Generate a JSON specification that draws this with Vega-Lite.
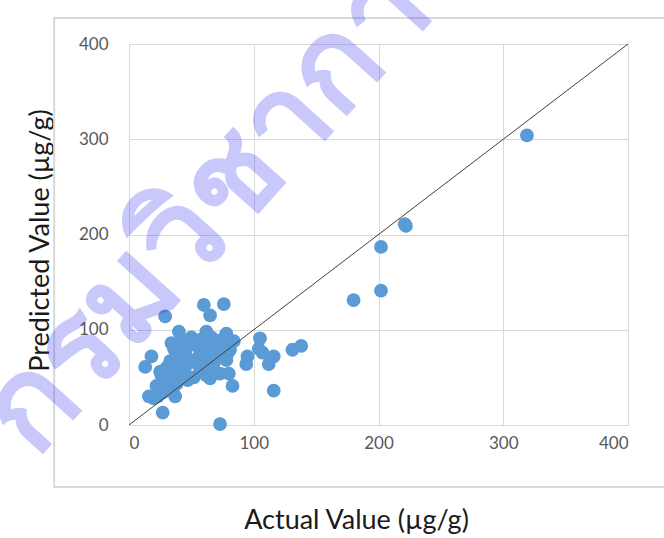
{
  "$schema": "https://vega.github.io/schema/vega-lite/v6.json",
  "width": 499,
  "height": 381,
  "autosize": {"type": "none"},
  "padding": {"left": 129, "top": 44, "right": 36, "bottom": 113},
  "background": "white",
  "config": {
    "view": {"stroke": "#d9d9d9", "strokeWidth": 1},
    "font": "Lato"
  },
  "datasets": {
    "points": [
      {"a":319,"p":304},{"a":221,"p":211},{"a":222,"p":209},{"a":202,"p":187},{"a":202,"p":141},{"a":180,"p":131},
      {"a":138,"p":83},{"a":131,"p":79},{"a":116,"p":36},{"a":112,"p":64},{"a":116,"p":72},{"a":105,"p":91},
      {"a":104,"p":80},{"a":107,"p":76},{"a":95,"p":72},{"a":94,"p":64},{"a":83,"p":41},{"a":80,"p":54},
      {"a":73,"p":1},{"a":27,"p":13},{"a":29,"p":114},{"a":60,"p":126},{"a":76,"p":127},{"a":65,"p":115},
      {"a":40,"p":98},{"a":34,"p":86},{"a":42,"p":89},{"a":49,"p":84},{"a":62,"p":98},{"a":64,"p":88},
      {"a":78,"p":96},{"a":84,"p":88},{"a":76,"p":82},{"a":73,"p":72},{"a":57,"p":77},{"a":38,"p":74},
      {"a":49,"p":68},{"a":33,"p":67},{"a":18,"p":72},{"a":13,"p":61},{"a":25,"p":56},{"a":25,"p":42},
      {"a":20,"p":28},{"a":35,"p":35},{"a":37,"p":30},{"a":47,"p":47},{"a":41,"p":52},{"a":65,"p":49},
      {"a":73,"p":54},{"a":54,"p":65},{"a":62,"p":60},{"a":68,"p":65},{"a":78,"p":68},{"a":70,"p":79},
      {"a":81,"p":79},{"a":46,"p":88},{"a":56,"p":83},{"a":30,"p":50},{"a":22,"p":41},{"a":38,"p":43},
      {"a":27,"p":34},{"a":23,"p":30},{"a":30,"p":60},{"a":45,"p":60},{"a":57,"p":57},{"a":67,"p":58},
      {"a":40,"p":65},{"a":35,"p":55},{"a":45,"p":76},{"a":60,"p":72},{"a":65,"p":80},{"a":75,"p":90},
      {"a":58,"p":90},{"a":28,"p":46},{"a":32,"p":40},{"a":16,"p":30},{"a":52,"p":50},{"a":62,"p":52},
      {"a":66,"p":92},{"a":79,"p":75},{"a":36,"p":80},{"a":43,"p":70},
      {"a":50,"p":92},{"a":70,"p":88},{"a":55,"p":70},{"a":44,"p":82},{"a":70,"p":70},{"a":26,"p":52},{"a":40,"p":58}
    ],
    "one": [{}]
  },
  "layer": [
    {
      "data": {"name": "one"},
      "mark": {"type": "rect", "fill": null, "filled": false, "stroke": "#d9d9d9", "strokeWidth": 2},
      "encoding": {
        "x": {"datum": -60, "type": "quantitative", "scale": {"domain": [0, 400], "nice": false, "zero": false}},
        "x2": {"datum": 440},
        "y": {"datum": -65, "type": "quantitative", "scale": {"domain": [0, 400], "nice": false, "zero": false}},
        "y2": {"datum": 427.3}
      }
    },
    {
      "data": {"name": "points"},
      "mark": {"type": "circle", "color": "#5b9bd5", "opacity": 1, "size": 190},
      "encoding": {
        "x": {
          "field": "a", "type": "quantitative",
          "scale": {"domain": [0, 400], "nice": false, "zero": false},
          "axis": {
            "values": [0, 100, 200, 300, 400],
            "title": "Actual Value (µg/g)",
            "domain": false, "ticks": false, "grid": true, "gridColor": "#d9d9d9", "gridWidth": 1,
            "labelFontSize": 17, "labelColor": "#595959", "labelPadding": 10, "labelFont": "Lato",
            "titleFontSize": 27, "titleFontWeight": "normal", "titleColor": "#1a1a1a", "titleFont": "Lato",
            "titleX": 227, "titleY": 95, "titleBaseline": "middle", "titleAlign": "center"
          }
        },
        "y": {
          "field": "p", "type": "quantitative",
          "scale": {"domain": [0, 400], "nice": false, "zero": false},
          "axis": {
            "values": [0, 100, 200, 300, 400],
            "title": "Predicted Value (µg/g)",
            "domain": false, "ticks": false, "grid": true, "gridColor": "#d9d9d9", "gridWidth": 1,
            "labelFontSize": 17, "labelColor": "#595959", "labelPadding": 21, "labelFont": "Lato",
            "titleFontSize": 27, "titleFontWeight": "normal", "titleColor": "#1a1a1a", "titleFont": "Lato",
            "titleX": -89, "titleY": 196, "titleAngle": 270, "titleBaseline": "middle", "titleAlign": "center"
          }
        }
      }
    },
    {
      "data": {"name": "one"},
      "mark": {"type": "rule", "color": "#404040", "strokeWidth": 1},
      "encoding": {
        "x": {"datum": 0, "type": "quantitative"},
        "y": {"datum": 0, "type": "quantitative"},
        "x2": {"datum": 400},
        "y2": {"datum": 400}
      }
    },
    {
      "data": {"name": "one"},
      "mark": {"type": "text", "text": "กรมวิชาการเกษตร", "angle": -48, "align": "left", "baseline": "middle", "fontSize": 126, "fontWeight": "bold", "color": "#2020f0", "opacity": 0.24},
      "encoding": {
        "x": {"datum": -98, "type": "quantitative"},
        "y": {"datum": -10, "type": "quantitative"}
      }
    }
  ]
}
